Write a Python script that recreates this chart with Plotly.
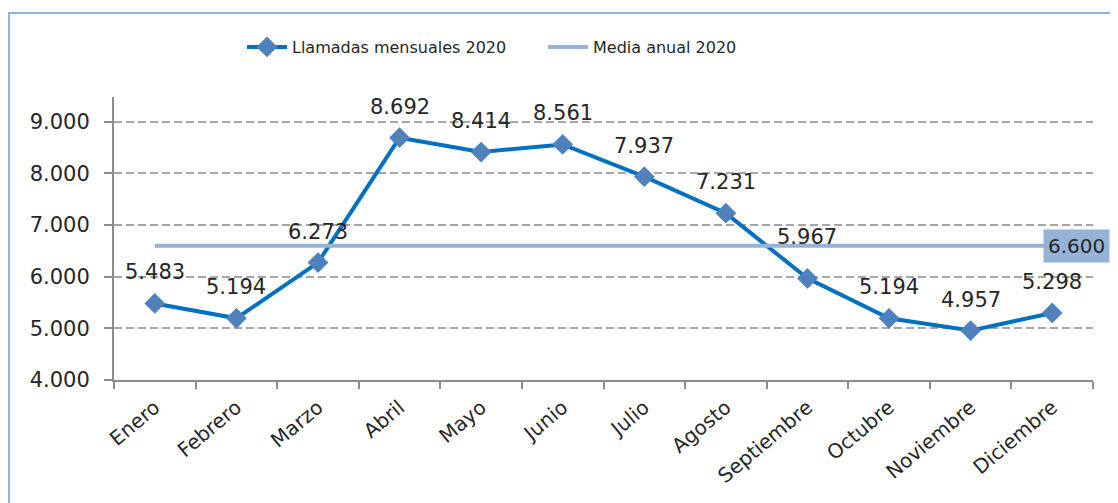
import plotly.graph_objects as go

months = ["Enero", "Febrero", "Marzo", "Abril", "Mayo", "Junio", "Julio",
          "Agosto", "Septiembre", "Octubre", "Noviembre", "Diciembre"]
llamadas = [5483, 5194, 6273, 8692, 8414, 8561, 7937, 7231, 5967, 5194, 4957, 5298]
media = 6600
label_shift = [31, 31, 31, 31, 31, 31, 31, 31, 41, 31, 31, 31]
ytick_vals = [4000, 5000, 6000, 7000, 8000, 9000]
ytick_text = ["4.000", "5.000", "6.000", "7.000", "8.000", "9.000"]

def fmt(v):
    return f"{v:,}".replace(",", ".")

FONT = "DejaVu Sans"
TXT = "#262626"
W, H = 1110, 495
fig = go.Figure()

fig.add_trace(go.Scatter(
    x=months, y=llamadas, mode="lines+markers", name="Llamadas mensuales 2020",
    line=dict(color="#0070C0", width=4),
    marker=dict(symbol="diamond", size=16, color="#4F81BD"),
))
fig.add_trace(go.Scatter(
    x=months, y=[media] * len(months), mode="lines", name="Media anual 2020",
    line=dict(color="#95B3D7", width=4),
))

for m, v, s in zip(months, llamadas, label_shift):
    fig.add_annotation(x=m, y=v, text=fmt(v), showarrow=False, yshift=s,
                       font=dict(family=FONT, size=21, color=TXT))

fig.add_annotation(x=months[-1], y=media, text=fmt(media), showarrow=False,
                   xshift=24, bgcolor="#95B3D7", borderpad=4,
                   font=dict(family=FONT, size=20, color=TXT))

fig.update_layout(
    width=W, height=H,
    margin=dict(l=106, r=25, t=89, b=123, autoexpand=False),
    paper_bgcolor="white", plot_bgcolor="white",
    font=dict(family=FONT, size=20, color=TXT),
    showlegend=True,
    legend=dict(orientation="h", xref="container", yref="container",
                x=234 / W, y=(H - 39) / H, xanchor="left", yanchor="middle",
                font=dict(family=FONT, size=16, color=TXT),
                itemwidth=40, entrywidth=246, bgcolor="rgba(0,0,0,0)"),
    shapes=[dict(type="rect", xref="paper", yref="paper",
                 x0=-105 / 979, x1=1.2, y0=-0.6, y1=1 + 84 / 283,
                 line=dict(color="#95B3D7", width=2), layer="below")],
)
fig.update_xaxes(range=[-0.5, len(months) - 0.5],
                 showline=True, linecolor="#8C8C8C", linewidth=2,
                 ticks="outside", ticklen=7, tickcolor="#8C8C8C", tickwidth=2,
                 tickson="boundaries", tickangle=-40, showgrid=False,
                 ticklabelstandoff=6,
                 tickfont=dict(family=FONT, size=20, color=TXT))
fig.update_yaxes(range=[4000, 9480], tickvals=ytick_vals, ticktext=ytick_text,
                 showline=True, linecolor="#8C8C8C", linewidth=2,
                 ticks="outside", ticklen=8, tickcolor="#8C8C8C", tickwidth=2,
                 showgrid=True, gridcolor="#A6A6A6", griddash="8px,4px", gridwidth=1.5,
                 zeroline=False, ticklabelstandoff=10,
                 tickfont=dict(family=FONT, size=21, color=TXT))

fig.write_html("out.html")
